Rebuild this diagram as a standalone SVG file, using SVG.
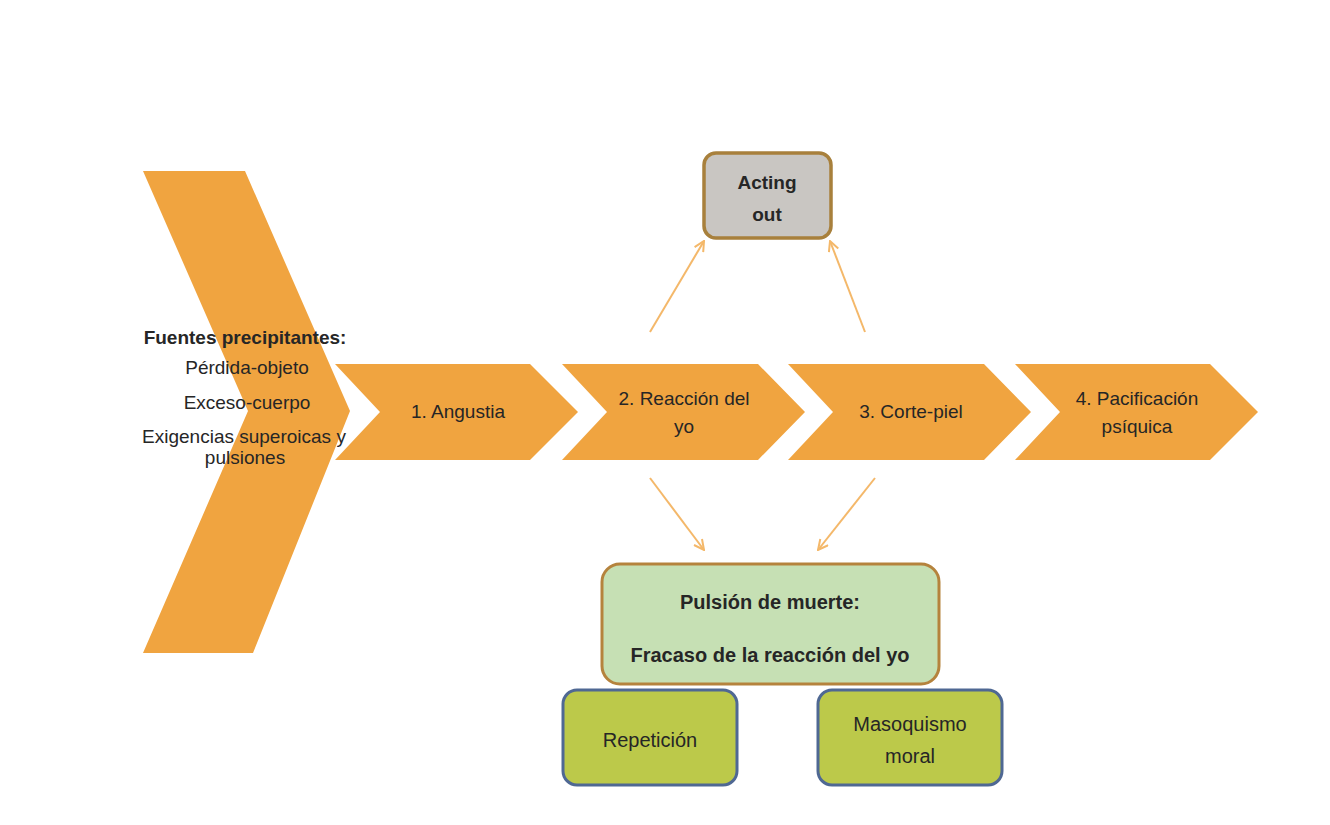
<svg xmlns="http://www.w3.org/2000/svg" width="1330" height="825" viewBox="0 0 1330 825">
<defs>
<style>
.chev{fill:#F0A440;}
.t{font-family:"Liberation Sans",Arial,sans-serif;font-size:19px;fill:#262626;text-anchor:middle;}
.b{font-weight:bold;}
.l{font-size:20px;}
.conn{stroke:#F4B86A;stroke-width:2;fill:none;}
</style>
<marker id="ah" viewBox="0 0 12 12" refX="11" refY="6" markerWidth="12" markerHeight="12" markerUnits="userSpaceOnUse" orient="auto">
<path d="M1,1 L11,6 L1,11" fill="none" stroke="#F4B86A" stroke-width="2"/>
</marker>
</defs>
<rect width="1330" height="825" fill="#ffffff"/>

<g id="fuentes">
<polygon class="chev" points="143,171 245,171 350,411 253,653 143,653 248,411"/>
<text class="t b" x="245" y="344">Fuentes precipitantes:</text>
<text class="t" x="247" y="374">Pérdida-objeto</text>
<text class="t" x="247" y="409">Exceso-cuerpo</text>
<text class="t" x="244" y="443">Exigencias superoicas y</text>
<text class="t" x="245" y="464">pulsiones</text>
</g>

<g id="angustia">
<polygon class="chev" points="335,364 530,364 578,412 530,460 335,460 380,412"/>
<text class="t" x="458" y="418">1. Angustia</text>
</g>

<g id="reaccion">
<polygon class="chev" points="562,364 758,364 805,412 758,460 562,460 607,412"/>
<text class="t" x="684" y="405">2. Reacción del</text>
<text class="t" x="684" y="433">yo</text>
</g>

<g id="corte">
<polygon class="chev" points="788,364 984,364 1031,412 984,460 788,460 833,412"/>
<text class="t" x="911" y="418">3. Corte-piel</text>
</g>

<g id="pacificacion">
<polygon class="chev" points="1015,364 1210,364 1258,412 1210,460 1015,460 1060,412"/>
<text class="t" x="1137" y="405">4. Pacificación</text>
<text class="t" x="1137" y="433">psíquica</text>
</g>

<g id="acting">
<rect x="704" y="153" width="127" height="85" rx="12" fill="#C9C6C2" stroke="#A8803C" stroke-width="3.5"/>
<text class="t b" x="767" y="189">Acting</text>
<text class="t b" x="767" y="221">out</text>
</g>

<g id="pulsion">
<rect x="602" y="564" width="337" height="120" rx="18" fill="#C6E0B4" stroke="#B5833D" stroke-width="3"/>
<text class="t b l" x="770" y="609">Pulsión de muerte:</text>
<text class="t b l" x="770" y="662">Fracaso de la reacción del yo</text>
</g>

<g id="repeticion">
<rect x="563" y="690" width="174" height="95" rx="14" fill="#BCC94A" stroke="#4F6893" stroke-width="3"/>
<text class="t l" x="650" y="747">Repetición</text>
</g>

<g id="masoquismo">
<rect x="818" y="690" width="184" height="95" rx="14" fill="#BCC94A" stroke="#4F6893" stroke-width="3"/>
<text class="t l" x="910" y="731">Masoquismo</text>
<text class="t l" x="910" y="763">moral</text>
</g>

<g id="connectors">
<line class="conn" x1="650" y1="332" x2="704" y2="241" marker-end="url(#ah)"/>
<line class="conn" x1="865" y1="332" x2="830" y2="241" marker-end="url(#ah)"/>
<line class="conn" x1="650" y1="478" x2="704" y2="550" marker-end="url(#ah)"/>
<line class="conn" x1="875" y1="478" x2="818" y2="550" marker-end="url(#ah)"/>
</g>
</svg>
